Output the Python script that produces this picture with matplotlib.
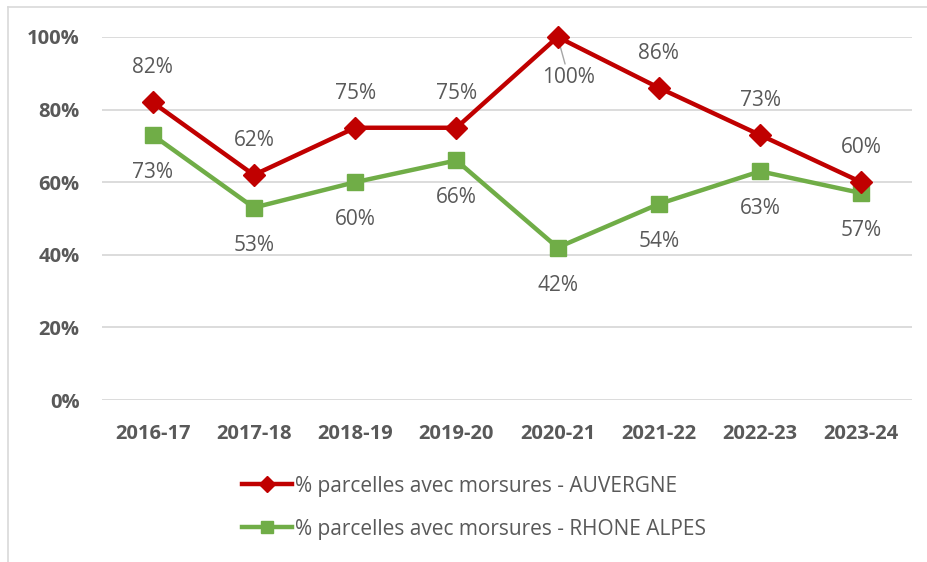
import matplotlib.pyplot as plt
from matplotlib.lines import Line2D

plt.rcParams['font.family'] = ['Open Sans', 'DejaVu Sans']

# Data
seasons = ['2016-17', '2017-18', '2018-19', '2019-20', '2020-21', '2021-22', '2022-23', '2023-24']
auvergne = [82, 62, 75, 75, 100, 86, 73, 60]
rhone_alpes = [73, 53, 60, 66, 42, 54, 63, 57]
yticks = [0, 20, 40, 60, 80, 100]
labels = ['% parcelles avec morsures - AUVERGNE', '% parcelles avec morsures - RHONE ALPES']

red = '#C00000'
green = '#70AD47'
grey = '#595959'

fig = plt.figure(figsize=(9.28, 5.62), dpi=100)
ax = fig.add_axes([102 / 928, 162 / 562, 810 / 928, 363 / 562])

x = list(range(len(seasons)))
ax.plot(x, auvergne, color=red, lw=3.2, marker='D', ms=11, clip_on=False, zorder=4)
ax.plot(x, rhone_alpes, color=green, lw=3.2, marker='s', ms=12, clip_on=False, zorder=3)

# data labels
lab_fs = 15
for i, v in enumerate(auvergne):
    if v == 100:
        ax.annotate(f'{v}%', (i, v), xytext=(8, -29), textcoords='offset points',
                    ha='center', va='center', fontsize=lab_fs, color=grey,
                    arrowprops=dict(arrowstyle='-', color='#A6A6A6', lw=1, shrinkA=0, shrinkB=2))
    else:
        ax.annotate(f'{v}%', (i, v), xytext=(0, 25), textcoords='offset points',
                    ha='center', va='center', fontsize=lab_fs, color=grey)
for i, v in enumerate(rhone_alpes):
    ax.annotate(f'{v}%', (i, v), xytext=(0, -27), textcoords='offset points',
                ha='center', va='center', fontsize=lab_fs, color=grey)

ax.set_xlim(-0.5, len(seasons) - 0.5)
ax.set_ylim(0, 100)
ax.set_yticks(yticks)
ax.set_yticklabels([f'{t}%' for t in yticks], fontsize=14.5, fontweight='bold', color=grey)
ax.set_xticks(x)
ax.set_xticklabels(seasons, fontsize=14.5, fontweight='bold', color=grey)
ax.tick_params(axis='both', length=0)
ax.tick_params(axis='x', pad=17)
ax.tick_params(axis='y', pad=16)
ax.grid(axis='y', color='#D9D9D9', lw=1.3)
ax.set_axisbelow(True)
for s in ax.spines.values():
    s.set_visible(False)

handles = [Line2D([], [], color=red, lw=3.2, marker='D', ms=8),
           Line2D([], [], color=green, lw=3.2, marker='s', ms=8)]
fig.legend(handles, labels, loc='upper left', bbox_to_anchor=(223 / 928, 1 - 457 / 562),
           frameon=False, fontsize=15, labelcolor=grey, handlelength=2.4,
           handletextpad=0.15, labelspacing=1.05)

# chart border (left and top visible)
fig.add_artist(Line2D([8 / 928, 8 / 928], [0, 1 - 7 / 562], color='#D9D9D9', lw=1.2))
fig.add_artist(Line2D([8 / 928, 1], [1 - 7 / 562, 1 - 7 / 562], color='#D9D9D9', lw=1.2))

fig.savefig('out.png', dpi=100)
